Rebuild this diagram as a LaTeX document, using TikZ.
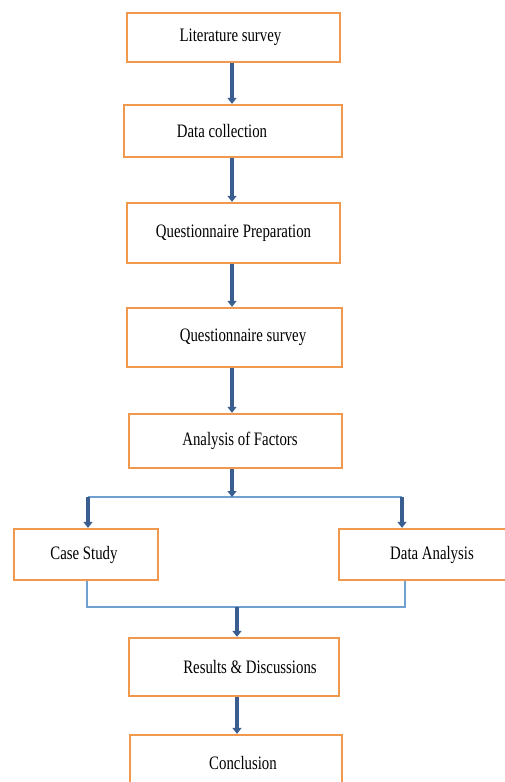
\documentclass[tikz,border=0pt]{standalone}
\usepackage{fontspec}
\setmainfont[FakeStretch=0.78]{Liberation Serif}
\usepackage{tikz}
\usetikzlibrary{arrows.meta,positioning,calc}
\definecolor{boxorange}{RGB}{240,152,78}
\definecolor{flowblue}{RGB}{58,94,143}
\definecolor{linkblue}{RGB}{112,160,208}
\tikzset{stage/.style={draw=boxorange, line width=2.3pt, fill=white, inner sep=2pt, font=\fontsize{19}{22}\selectfont}}
\tikzset{flow/.style={draw=flowblue, line width=4pt, -{Triangle[width=9pt,length=6pt]}}}
\tikzset{link/.style={draw=linkblue, line width=1.1pt}}

\begin{document}
\begin{tikzpicture}[x=1pt, y=-1pt]
\useasboundingbox (0,0) rectangle (504,782);
\node[stage, minimum width=213pt, minimum height=49pt] (lit) at (233.5,37.5) {Literature survey\hspace*{6pt}};
\node[stage, minimum width=218pt, minimum height=52pt] (dc) at (233,131) {Data collection\hspace*{22pt}};
\node[stage, minimum width=213pt, minimum height=60pt] (qp) at (233.5,233) {Questionnaire Preparation};
\node[stage, minimum width=215pt, minimum height=59pt] (qs) at (234.5,337.5) {\hspace*{17pt}Questionnaire survey};
\node[stage, minimum width=213pt, minimum height=54pt] (af) at (235.5,441) {\hspace*{9pt}Analysis of Factors};
\node[stage, minimum width=144pt, minimum height=51pt] (cs) at (86,554.5) {Case Study\hspace*{4pt}};
\node[stage, minimum width=186pt, minimum height=51pt] (da) at (432,554.5) {Data Analysis};
\node[stage, minimum width=210pt, minimum height=58pt] (rd) at (234,667) {\hspace*{32pt}Results \& Discussions};
\node[stage, minimum width=212pt, minimum height=55pt] (cn) at (236,762.5) {\hspace*{14pt}Conclusion};

\coordinate (split) at (232,497);
\coordinate (fork l) at (88,497);
\coordinate (fork r) at (402,497);
\coordinate (join l) at (87,607);
\coordinate (join r) at (405,607);
\coordinate (join) at (237,607);

\draw[flow] (lit.south -| split) -- (dc.north -| split);
\draw[flow] (dc.south -| split) -- (qp.north -| split);
\draw[flow] (qp.south -| split) -- (qs.north -| split);
\draw[flow] (qs.south -| split) -- (af.north -| split);
\draw[link] (fork l) -- (fork r);
\draw[flow] (af.south -| split) -- (split);
\draw[flow] (fork l) -- (cs.north -| fork l);
\draw[flow] (fork r) -- (da.north -| fork r);
\draw[link] (cs.south -| join l) -- (join l) -- (join r) -- (da.south -| join r);
\draw[flow] (join) -- (rd.north -| join);
\draw[flow] (rd.south -| join) -- (cn.north -| join);
\end{tikzpicture}
\end{document}
